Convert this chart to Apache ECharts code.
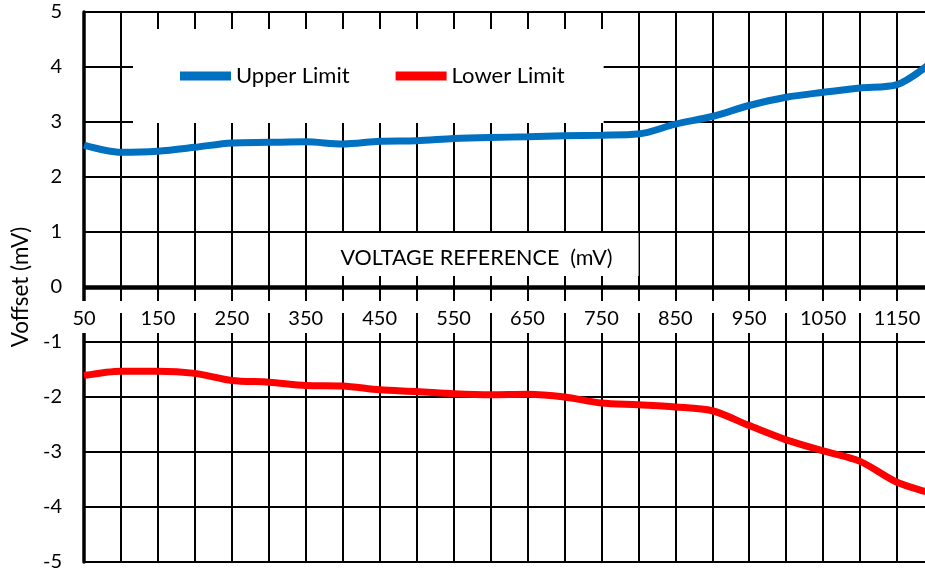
<!DOCTYPE html>
<html><head><meta charset="utf-8">
<script src="https://cdn.jsdelivr.net/npm/echarts@6/dist/echarts.min.js"></script>
<style>html,body{margin:0;padding:0;background:#fff}#c{width:925px;height:571px}</style>
</head><body><div id="c"></div>
<script>
const xValues = [50,100,150,200,250,300,350,400,450,500,550,600,650,700,750,800,850,900,950,1000,1050,1100,1150,1200];
const upperLimit = [2.58,2.45,2.47,2.54,2.62,2.63,2.64,2.60,2.65,2.66,2.70,2.72,2.73,2.75,2.76,2.78,2.96,3.10,3.30,3.45,3.54,3.62,3.68,4.12];
const lowerLimit = [-1.61,-1.53,-1.53,-1.57,-1.70,-1.73,-1.79,-1.80,-1.87,-1.90,-1.94,-1.96,-1.95,-2.00,-2.11,-2.14,-2.18,-2.25,-2.52,-2.78,-2.98,-3.17,-3.55,-3.76];
const xTickLabels = [50,150,250,350,450,550,650,750,850,950,1050,1150];
const seriesNames = ['Upper Limit','Lower Limit'];
const xAxisName = 'VOLTAGE REFERENCE  (mV)';
const yAxisName = 'Voffset (mV)';
const zeroLineValue = 0;

const FONT = 'Lato';
const chart = echarts.init(document.getElementById('c'), null, {renderer:'canvas'});
const pairs = arr => xValues.map((x,i)=>[x,arr[i]]);

chart.setOption({
  animation:false,
  backgroundColor:'#fff',
  textStyle:{fontFamily:FONT},
  grid:{left:84,top:12,bottom:9,right:-9,containLabel:false,outerBoundsMode:'none'},
  legend:{
    left:133, top:29,
    backgroundColor:'#fff',
    padding:[36,39,36,47],
    itemWidth:51, itemHeight:9, itemGap:46,
    icon:'rect',
    textStyle:{fontFamily:FONT,fontSize:22,color:'#000'},
    data:seriesNames
  },
  xAxis:[{
    type:'value', min:50, max:1200, interval:50, z:0,
    axisLine:{show:false,onZero:false}, axisTick:{show:false}, axisLabel:{show:false},
    splitLine:{show:true,lineStyle:{color:'#000',width:2}}
  },{
    type:'value', min:50, max:1200, interval:50, z:10, position:'bottom', offset:-275,
    axisLine:{show:false,onZero:false},
    axisTick:{show:false},
    splitLine:{show:false},
    axisLabel:{
      show:true, margin:14, color:'#000', fontFamily:FONT, fontSize:20,
      backgroundColor:'#fff', padding:[8,3,4,3],
      formatter: v => xTickLabels.includes(v) ? String(v) : ''
    },
    name:'{a|'+xAxisName+'}{b|}', nameLocation:'middle', nameGap:-54, nameMoveOverlap:false,
    nameTextStyle:{
      rich:{
        a:{fontFamily:FONT,fontSize:21.5,color:'#000',backgroundColor:'#fff',padding:[14,26,7,33]},
        b:{width:72}
      }
    }
  }],
  yAxis:{
    type:'value', min:-5, max:5, interval:1,
    axisLine:{show:true,onZero:false,lineStyle:{color:'#000',width:3.5}},
    axisTick:{show:false},
    axisLabel:{color:'#000',fontFamily:FONT,fontSize:20,margin:22},
    splitLine:{show:true,lineStyle:{color:'#000',width:2}},
    name:yAxisName, nameLocation:'middle', nameGap:49,
    nameTextStyle:{fontFamily:FONT,fontSize:22.5,color:'#000'}
  },
  series:[{
    name:seriesNames[0], type:'line', xAxisIndex:0, data:pairs(upperLimit),
    smooth:0.3, showSymbol:false, color:'#0070C0',
    lineStyle:{width:7,color:'#0070C0'},
    markLine:{
      silent:true, symbol:'none', label:{show:false}, animation:false,
      lineStyle:{color:'#000',width:4.5,type:'solid'},
      data:[{yAxis:zeroLineValue}]
    }
  },{
    name:seriesNames[1], type:'line', xAxisIndex:0, data:pairs(lowerLimit),
    smooth:0.3, showSymbol:false, color:'#FF0000',
    lineStyle:{width:7,color:'#FF0000'}
  }]
});
</script></body></html>
